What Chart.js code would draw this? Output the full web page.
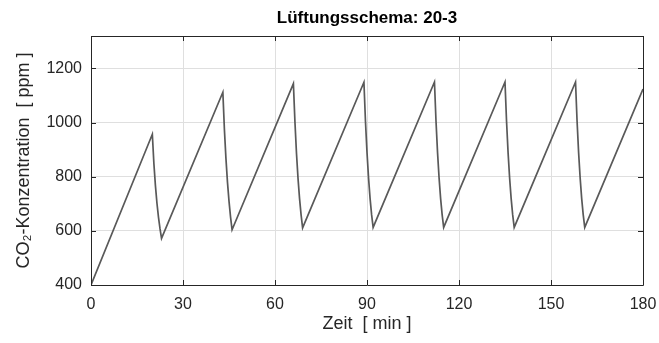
<!DOCTYPE html>
<html>
<head>
<meta charset="utf-8">
<script src="https://cdn.jsdelivr.net/npm/chart.js@4"></script>
<style>
  html, body { margin: 0; padding: 0; background: #fff; }
  #wrap { width: 659px; height: 343px; position: relative; }
</style>
</head>
<body>
<div id="wrap"><canvas id="co2Chart" width="659" height="343"></canvas></div>
<script>
// CO2 concentration, ventilation scheme 20 min closed / 3 min open
const TITLE = 'Lüftungsschema: 20-3';
const X_LABEL = 'Zeit  [ min ]';
const Y_LABEL = 'CO\u2082-Konzentration  [ ppm ]';

const X_TICKS = [0, 30, 60, 90, 120, 150, 180];
const Y_TICKS = [400, 600, 800, 1000, 1200];

// linear rise, then 3 min of fast decay
const timeMin = [
  0, 20, 20.5, 21, 21.5, 22, 22.5, 23,
  43, 43.5, 44, 44.5, 45, 45.5, 46,
  66, 66.5, 67, 67.5, 68, 68.5, 69,
  89, 89.5, 90, 90.5, 91, 91.5, 92,
  112, 112.5, 113, 113.5, 114, 114.5, 115,
  135, 135.5, 136, 136.5, 137, 137.5, 138,
  158, 158.5, 159, 159.5, 160, 160.5, 161,
  180
];
const co2Ppm = [
  400, 957, 850, 768, 703, 651, 608, 572,
  1112, 975, 868, 780, 710, 652, 604,
  1144, 1003, 888, 795, 720, 660, 611,
  1149, 1005, 890, 796, 720, 660, 613,
  1150, 1006, 890, 796, 720, 660, 613,
  1150, 1006, 890, 796, 720, 660, 613,
  1150, 1006, 890, 796, 720, 660, 613,
  1124
];

const AXIS_COLOR = '#262626';
const GRID_COLOR = '#dfdfdf';
const LINE_COLOR = '#595959';
const FONT = 'Helvetica, "Liberation Sans", Arial, sans-serif';

// MATLAB-like box with inward tick marks on all four sides
const boxPlugin = {
  id: 'boxAxes',
  afterDatasetsDraw(chart) {
    const { ctx, chartArea: a, scales } = chart;
    const len = 5;
    ctx.save();
    ctx.strokeStyle = AXIS_COLOR;
    ctx.lineWidth = 1;
    ctx.beginPath();
    ctx.rect(Math.round(a.left) + 0.5, Math.round(a.top) + 0.5,
             Math.round(a.right - a.left), Math.round(a.bottom - a.top));
    X_TICKS.forEach(v => {
      const x = Math.round(scales.x.getPixelForValue(v)) + 0.5;
      ctx.moveTo(x, a.bottom); ctx.lineTo(x, a.bottom - len);
      ctx.moveTo(x, a.top); ctx.lineTo(x, a.top + len);
    });
    Y_TICKS.forEach(v => {
      const y = Math.round(scales.y.getPixelForValue(v)) + 0.5;
      ctx.moveTo(a.left, y); ctx.lineTo(a.left + len, y);
      ctx.moveTo(a.right, y); ctx.lineTo(a.right - len, y);
    });
    ctx.stroke();
    ctx.restore();
  }
};

new Chart(document.getElementById('co2Chart'), {
  type: 'line',
  data: {
    datasets: [{
      data: timeMin.map((t, i) => ({ x: t, y: co2Ppm[i] })),
      borderColor: LINE_COLOR,
      borderWidth: 1.7,
      pointRadius: 0,
      tension: 0,
      fill: false
    }]
  },
  options: {
    responsive: false,
    animation: false,
    layout: { padding: { left: 0, right: 16, top: 0, bottom: 0 } },
    plugins: {
      legend: { display: false },
      tooltip: { enabled: false },
      title: {
        display: true,
        text: TITLE,
        fullSize: false,
        color: '#000',
        font: { family: FONT, size: 17, weight: 'bold' },
        padding: { top: 8, bottom: 7.6 }
      }
    },
    scales: {
      x: {
        type: 'linear',
        min: 0, max: 180,
        afterBuildTicks: s => { s.ticks = X_TICKS.map(v => ({ value: v })); },
        afterFit: s => { s.height = 58; s.paddingLeft = 0; s.paddingRight = 0; },
        grid: { color: GRID_COLOR, drawTicks: false },
        border: { display: false },
        ticks: { color: AXIS_COLOR, font: { family: FONT, size: 16 }, padding: 10, maxRotation: 0,
                 callback: v => String(v) },
        title: {
          display: true, text: X_LABEL, color: AXIS_COLOR,
          font: { family: FONT, size: 18 }, padding: { top: 0, bottom: 8 }
        }
      },
      y: {
        type: 'linear',
        min: 400, max: 1320,
        afterBuildTicks: s => { s.ticks = Y_TICKS.map(v => ({ value: v })); },
        afterFit: s => { s.width = 91; s.paddingTop = 0; s.paddingBottom = 0; },
        grid: { color: GRID_COLOR, drawTicks: false },
        border: { display: false },
        ticks: { color: AXIS_COLOR, font: { family: FONT, size: 16 }, padding: 9,
                 callback: v => String(v) },
        title: {
          display: true, text: Y_LABEL, color: AXIS_COLOR,
          font: { family: FONT, size: 18 }, padding: { top: 13, bottom: 0 }
        }
      }
    }
  },
  plugins: [boxPlugin]
});
</script>
</body>
</html>
